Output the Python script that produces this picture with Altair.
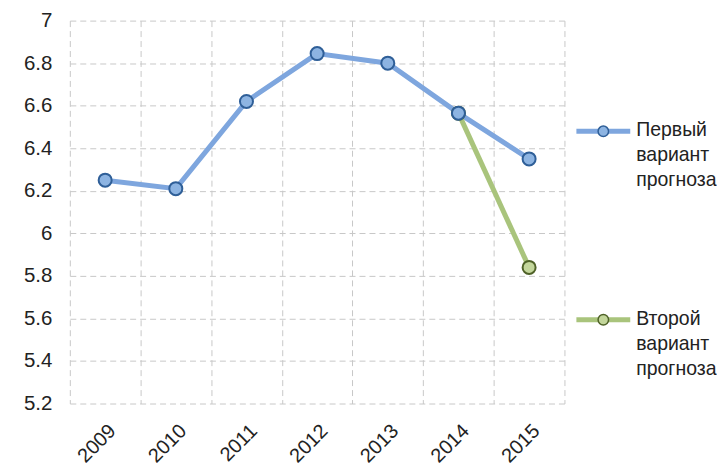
import altair as alt
import pandas as pd

years = ["2009", "2010", "2011", "2012", "2013", "2014", "2015"]
first_variant = [6.25, 6.21, 6.62, 6.845, 6.80, 6.565, 6.35]
second_variant = [None, None, None, None, None, 6.565, 5.84]
series_names = ["Первый\nвариант\nпрогноза", "Второй\nвариант\nпрогноза"]

rows = []
for y, v in zip(years, first_variant):
    rows.append({"year": y, "value": v, "series": series_names[0]})
for y, v in zip(years, second_variant):
    if v is not None:
        rows.append({"year": y, "value": v, "series": series_names[1]})
df = pd.DataFrame(rows)

line_colors = ["#7EA6DE", "#A9C47C"]
fill_colors = ["#8DB4E2", "#C3D69B"]
stroke_colors = ["#2F5F98", "#4F6228"]

FONT = "Liberation Sans"
grid_color = "#C8C8C8"

x_enc = alt.X("year:O", scale=alt.Scale(type="band", paddingInner=0, paddingOuter=0, domain=years),
              axis=alt.Axis(title=None, labelAngle=-45, labelFontSize=20, labelFont=FONT,
                            labelColor="#222222", ticks=False, domain=False, grid=True,
                            gridDash=[6, 4], gridColor=grid_color, tickBand="extent",
                            labelPadding=17))
y_enc = alt.Y("value:Q", scale=alt.Scale(domain=[5.2, 7.0], nice=False, zero=False),
              axis=alt.Axis(title=None, values=[5.2, 5.4, 5.6, 5.8, 6.0, 6.2, 6.4, 6.6, 6.8, 7.0],
                            labelFontSize=20.5, labelFont=FONT, labelColor="#222222",
                            ticks=False, domain=False, grid=True, gridDash=[6, 4],
                            gridColor=grid_color, labelPadding=18,
                            labelExpr="format(datum.value, '.1~f')"))

base = alt.Chart(df)
color_line = alt.Color("series:N", scale=alt.Scale(domain=series_names, range=line_colors), legend=None)
lines = base.mark_line(strokeWidth=5).encode(x=x_enc, y=y_enc, color=color_line,
                                             detail="series:N")
points = base.mark_point(filled=True, size=170, strokeWidth=2, opacity=1).encode(
    x=x_enc, y=y_enc,
    fill=alt.Fill("series:N", scale=alt.Scale(domain=series_names, range=fill_colors), legend=None),
    stroke=alt.Stroke("series:N", scale=alt.Scale(domain=series_names, range=stroke_colors), legend=None),
    order=alt.Order("series:N", sort="ascending"),
)
main = alt.layer(lines, points).properties(width=496, height=384)

leg_df = pd.DataFrame({"series": series_names})
leg_y = alt.Y("series:N", scale=alt.Scale(type="point", padding=0, domain=series_names, range=[111, 300]),
              axis=None)
leg_base = alt.Chart(leg_df)
leg_line = leg_base.mark_rule(strokeWidth=5).encode(
    x=alt.value(12), x2=alt.value(66), y=leg_y,
    color=alt.Color("series:N", scale=alt.Scale(domain=series_names, range=line_colors), legend=None))
leg_pt = leg_base.mark_point(filled=True, size=110, strokeWidth=1.5, opacity=1).encode(
    x=alt.value(39), y=leg_y,
    fill=alt.Fill("series:N", scale=alt.Scale(domain=series_names, range=fill_colors), legend=None),
    stroke=alt.Stroke("series:N", scale=alt.Scale(domain=series_names, range=stroke_colors), legend=None))
leg_txt = leg_base.mark_text(align="left", baseline="top", dy=-10, lineBreak="\n", lineHeight=25,
                             fontSize=19.5, font=FONT, color="#222222").encode(
    x=alt.value(72), y=leg_y, text="series:N")
legend = alt.layer(leg_line, leg_pt, leg_txt).properties(width=150, height=384)

chart = alt.hconcat(main, legend, spacing=0).resolve_scale(
    color="independent", fill="independent", stroke="independent", y="independent"
).configure_view(stroke=None).properties(padding={"left": 15, "top": 2, "right": 0, "bottom": 0})

chart.save("out.html", embed_options={"renderer": "svg", "actions": False})
